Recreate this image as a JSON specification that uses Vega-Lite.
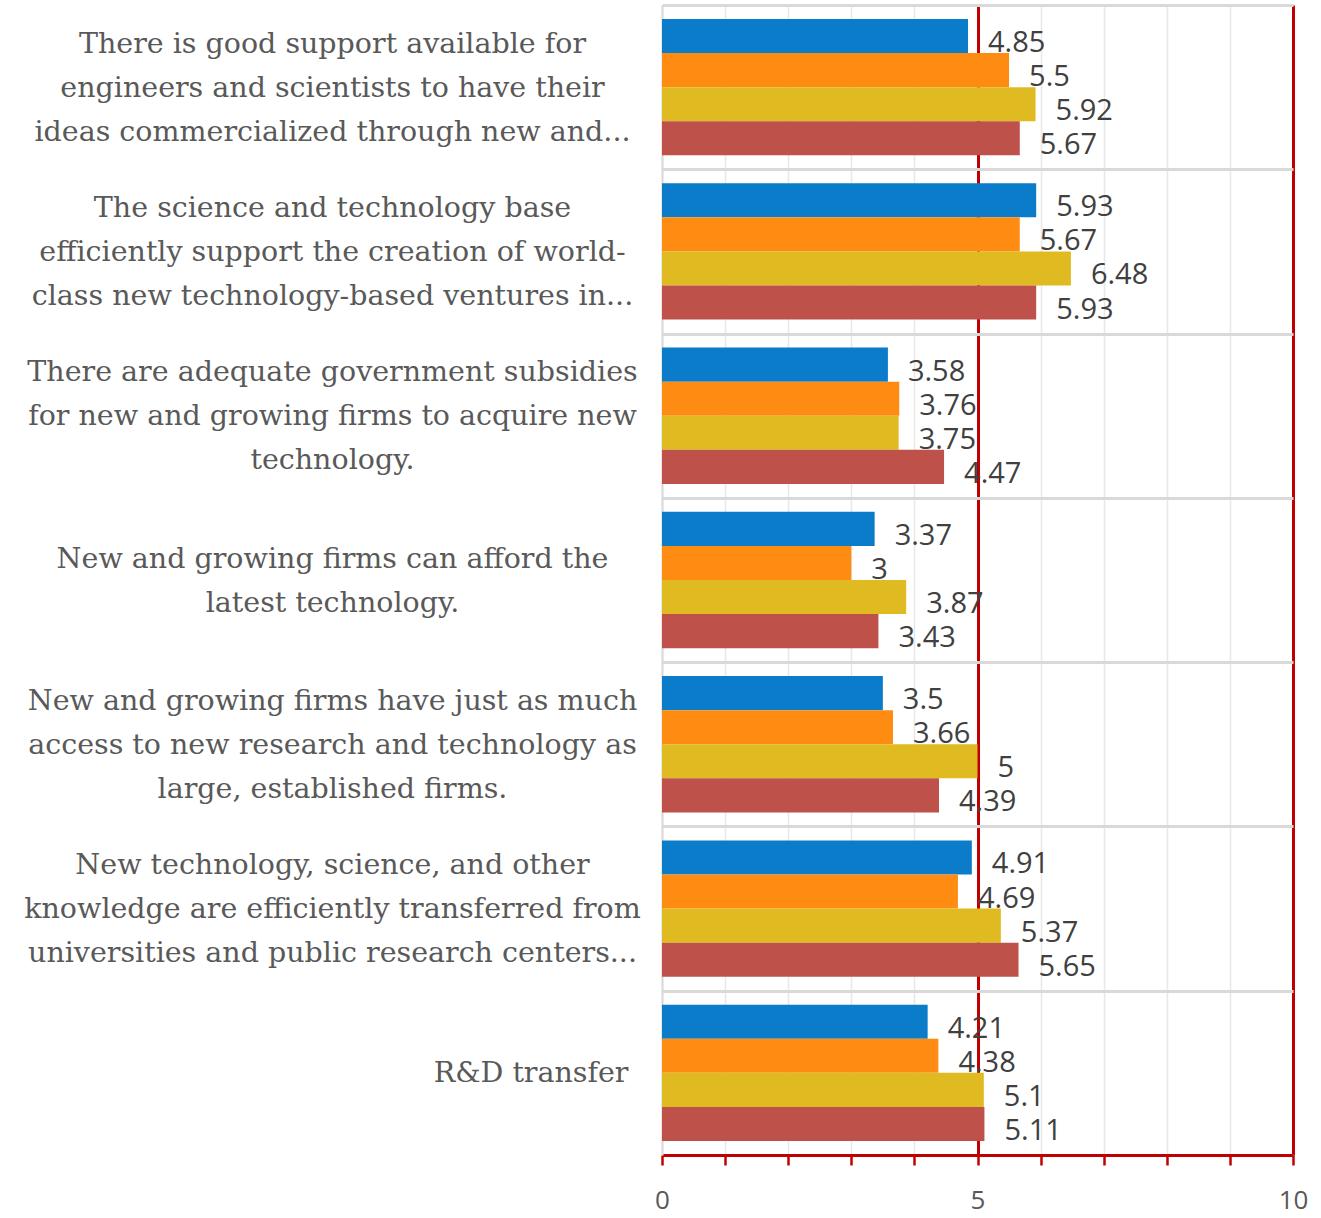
{
  "$schema": "https://vega.github.io/schema/vega-lite/v6.json",
  "width": 631,
  "height": 1150,
  "autosize": {"type": "none"},
  "padding": {"left": 662, "top": 5, "right": 28, "bottom": 63},
  "background": "white",
  "data": {
    "values": [
      {"category": "There is good support available for|engineers and scientists to have their|ideas commercialized through new and...", "series": "Series 1", "value": 4.85},
      {"category": "There is good support available for|engineers and scientists to have their|ideas commercialized through new and...", "series": "Series 2", "value": 5.5},
      {"category": "There is good support available for|engineers and scientists to have their|ideas commercialized through new and...", "series": "Series 3", "value": 5.92},
      {"category": "There is good support available for|engineers and scientists to have their|ideas commercialized through new and...", "series": "Series 4", "value": 5.67},
      {"category": "The science and technology base|efficiently support the creation of world-|class new technology-based ventures in...", "series": "Series 1", "value": 5.93},
      {"category": "The science and technology base|efficiently support the creation of world-|class new technology-based ventures in...", "series": "Series 2", "value": 5.67},
      {"category": "The science and technology base|efficiently support the creation of world-|class new technology-based ventures in...", "series": "Series 3", "value": 6.48},
      {"category": "The science and technology base|efficiently support the creation of world-|class new technology-based ventures in...", "series": "Series 4", "value": 5.93},
      {"category": "There are adequate government subsidies|for new and growing firms to acquire new|technology.", "series": "Series 1", "value": 3.58},
      {"category": "There are adequate government subsidies|for new and growing firms to acquire new|technology.", "series": "Series 2", "value": 3.76},
      {"category": "There are adequate government subsidies|for new and growing firms to acquire new|technology.", "series": "Series 3", "value": 3.75},
      {"category": "There are adequate government subsidies|for new and growing firms to acquire new|technology.", "series": "Series 4", "value": 4.47},
      {"category": "New and growing firms can afford the|latest technology.", "series": "Series 1", "value": 3.37},
      {"category": "New and growing firms can afford the|latest technology.", "series": "Series 2", "value": 3},
      {"category": "New and growing firms can afford the|latest technology.", "series": "Series 3", "value": 3.87},
      {"category": "New and growing firms can afford the|latest technology.", "series": "Series 4", "value": 3.43},
      {"category": "New and growing firms have just as much|access to new research and technology as|large, established firms.", "series": "Series 1", "value": 3.5},
      {"category": "New and growing firms have just as much|access to new research and technology as|large, established firms.", "series": "Series 2", "value": 3.66},
      {"category": "New and growing firms have just as much|access to new research and technology as|large, established firms.", "series": "Series 3", "value": 5},
      {"category": "New and growing firms have just as much|access to new research and technology as|large, established firms.", "series": "Series 4", "value": 4.39},
      {"category": "New technology, science, and other|knowledge are efficiently transferred from|universities and public research centers...", "series": "Series 1", "value": 4.91},
      {"category": "New technology, science, and other|knowledge are efficiently transferred from|universities and public research centers...", "series": "Series 2", "value": 4.69},
      {"category": "New technology, science, and other|knowledge are efficiently transferred from|universities and public research centers...", "series": "Series 3", "value": 5.37},
      {"category": "New technology, science, and other|knowledge are efficiently transferred from|universities and public research centers...", "series": "Series 4", "value": 5.65},
      {"category": "R&D transfer", "series": "Series 1", "value": 4.21},
      {"category": "R&D transfer", "series": "Series 2", "value": 4.38},
      {"category": "R&D transfer", "series": "Series 3", "value": 5.1},
      {"category": "R&D transfer", "series": "Series 4", "value": 5.11}
    ]
  },
  "encoding": {
    "y": {
      "field": "category",
      "type": "nominal",
      "sort": null,
      "scale": {"paddingInner": 0, "paddingOuter": 0},
      "axis": {
        "title": null,
        "domain": true,
        "domainColor": "#d9d9d9",
        "domainWidth": 2,
        "ticks": false,
        "tickSize": 0,
        "tickBand": "extent",
        "grid": true,
        "gridColor": "#d9d9d9",
        "gridWidth": 3,
        "labelExpr": "split(datum.label, '|')",
        "labelFont": "DejaVu Serif",
        "labelFontSize": 28.5,
        "labelColor": "#595959",
        "labelLineHeight": 44,
        "labelLimit": 0,
        "labelAlign": {"condition": {"test": "datum.value === 'R&D transfer'", "value": "right"}, "value": "center"},
        "labelPadding": {"condition": {"test": "datum.value === 'R&D transfer'", "value": 34}, "value": 330},
        "labelOffset": {"condition": [
          {"test": "length(split(datum.value, '|')) === 3", "value": -44},
          {"test": "length(split(datum.value, '|')) === 2", "value": -22}
        ], "value": 0}
      }
    },
    "yOffset": {
      "field": "series",
      "type": "nominal",
      "sort": null,
      "scale": {"paddingInner": 0, "paddingOuter": 0.41}
    },
    "x": {
      "field": "value",
      "type": "quantitative",
      "scale": {"domain": [0, 10], "nice": false},
      "axis": {
        "title": null,
        "values": [0, 1, 2, 3, 4, 5, 6, 7, 8, 9, 10],
        "labelExpr": "datum.value % 5 === 0 ? datum.label : ''",
        "domainColor": "#C00000",
        "domainWidth": 3,
        "tickColor": "#C00000",
        "tickWidth": 2.5,
        "tickSize": 10,
        "grid": true,
        "gridColor": {"condition": {"test": "datum.value === 5 || datum.value === 10", "value": "#C00000"}, "value": "#e8e8e8"},
        "gridWidth": {"condition": {"test": "datum.value === 5 || datum.value === 10", "value": 3}, "value": 1.5},
        "labelPadding": 22,
        "labelFont": "Open Sans",
        "labelFontSize": 26,
        "labelColor": "#595959",
        "labelFlush": false
      }
    }
  },
  "layer": [
    {
      "mark": {"type": "bar"},
      "encoding": {
        "color": {
          "field": "series",
          "type": "nominal",
          "scale": {"domain": ["Series 1", "Series 2", "Series 3", "Series 4"], "range": ["#0A7CC9", "#FF8C12", "#E0BA21", "#BE524B"]},
          "legend": null
        }
      }
    },
    {
      "mark": {"type": "text", "align": "left", "baseline": "middle", "dx": 20, "dy": 7, "font": "Open Sans", "fontSize": 29, "color": "#404040"},
      "encoding": {
        "text": {"field": "value", "type": "nominal"}
      }
    }
  ],
  "config": {"view": {"stroke": null}}
}
